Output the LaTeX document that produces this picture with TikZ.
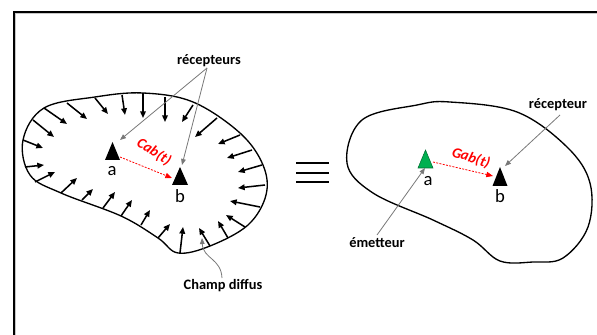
\documentclass[tikz,border=0pt]{standalone}
\usepackage{fontspec}
\setmainfont{Carlito}
\usetikzlibrary{arrows.meta}
\definecolor{gris}{RGB}{120,120,120}
\definecolor{vert}{RGB}{0,176,80}
\definecolor{vertf}{RGB}{0,110,50}
\definecolor{rouge}{RGB}{255,0,0}
\begin{document}
\begin{tikzpicture}[x=0.75pt,y=-0.75pt,
  lbl/.style={font=\fontsize{10.8}{12}\selectfont\bfseries, inner sep=0pt},
  ptlbl/.style={font=\fontsize{14}{15}\selectfont, inner sep=0pt},
  rlbl/.style={font=\fontsize{11}{13}\selectfont\bfseries\itshape, text=rouge, inner sep=0pt},
  gline/.style={draw=gris, line width=0.6pt, -{Triangle[length=4.5pt,width=3.5pt]}},
  rline/.style={draw=rouge, line width=0.6pt, dash pattern=on 1.5pt off 1pt, -{Triangle[length=5pt,width=4pt]}},
  field/.style={line width=1.15pt, -{Triangle[length=5pt,width=4.2pt]}},
  blob/.style={line width=1pt}
]
\useasboundingbox (0,0) rectangle (597,335);
% frame
\draw[gray!45, line width=0.75pt] (15.8,335) -- (15.8,13.8) -- (597,13.8);
\draw[line width=1.7pt] (14.2,335) -- (14.2,12.2) -- (597,12.2);

% left blob
\draw[blob] plot[smooth cycle, tension=0.6] coordinates {
 (23,140) (44,108) (95,97) (143,93) (193,102) (240,133) (263,165) (266,195)
 (248,225) (210,246) (178,253) (158,238) (121,216) (61,193) (30,175)};

% field arrows
\foreach \sx/\sy/\ex/\ey in {
 44/108/67/124, 67/103/87/119, 95/98/108/114, 122/95/125/115, 143/93/143/118,
 165/97/165/122, 193/105/182/122, 217/118/195/137, 240/135/218/144,
 252/150/227/158, 262/165/238/172, 265/185/238/188, 260/207/230/201,
 245/227/226/215, 228/238/218/221, 210/246/199/228, 180/253/183/227,
 158/238/170/224, 141/225/150/210, 121/216/132/200, 103/208/115/192,
 82/200/93/189, 61/193/77/178, 35/182/55/172, 25/167/44/165,
 23/140/43/148, 33/120/54/137}
 \draw[field] (\sx,\sy) -- (\ex,\ey);

% left receivers
\coordinate (LA) at (112.5,151);
\coordinate (LB) at (180,176);
\fill (LA) ++(0,-9) -- ++(-7.5,18) -- ++(15,0) -- cycle;
\fill (LB) ++(0,-9) -- ++(-8,18) -- ++(16,0) -- cycle;
\node[ptlbl] (la) at (112,171) {a};
\node[ptlbl] (lb) at (180,196) {b};
\coordinate (LAin) at (120,140);
\coordinate (LBin) at (182,165);
\coordinate (LAout) at (120,157);
\coordinate (LBout) at (172,178);
\draw[rline] (LAout) -- (LBout);
\node[rlbl, rotate=-32] (cab) at (154,152) {Cab(t)};

\node[lbl] (rec) at (209,61) {récepteurs};
\coordinate (recp) at (207,68);
\draw[gline] (recp) -- (LAin);
\draw[gline] (recp) -- (LBin);

\node[lbl] (cd) at (223,286) {Champ diffus};
\coordinate (cdtip) at (202,238);
\draw[gline] (222,278) .. controls (221,258) and (203,259) .. (cdtip);

% equivalence
\foreach \yy in {163,173,182}
 \draw[line width=1.5pt] (296,\yy) -- (329,\yy);

% right blob
\draw[blob] plot[smooth cycle, tension=0.6] coordinates {
 (347,163) (362,120) (417,105) (450,102) (517,112) (567,147) (590,183)
 (588,227) (563,258) (533,262) (500,261) (473,240) (433,220) (373,193)};

\coordinate (RA) at (425.5,159);
\coordinate (RB) at (500,176.5);
\filldraw[fill=vert, draw=vertf, line width=0.4pt] (RA) ++(0,-9) -- ++(-7.5,18) -- ++(15,0) -- cycle;
\fill (RB) ++(0,-9.5) -- ++(-7.5,19) -- ++(15,0) -- cycle;
\node[ptlbl] (ra) at (428,181) {a};
\node[ptlbl] (rb) at (500,196) {b};
\coordinate (RAout) at (433,162);
\coordinate (RBin) at (493,176);
\draw[rline] (RAout) -- (RBin);
\node[rlbl, rotate=-18] (gab) at (471,158) {Gab(t)};

\node[lbl] (rec2) at (558,105) {récepteur};
\coordinate (RBtip) at (505,166);
\draw[gline] (560,115) -- (RBtip);

\node[lbl] (em) at (377,243) {émetteur};
\coordinate (RAtip) at (425,168);
\draw[gline] (377,235) -- (RAtip);
\end{tikzpicture}
\end{document}
